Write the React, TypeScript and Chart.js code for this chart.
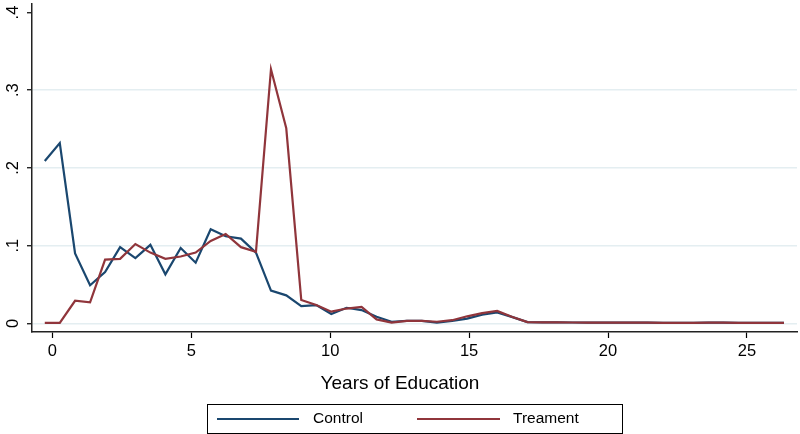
import { useEffect, useRef } from 'react';
import { Chart, registerables } from 'chart.js';

Chart.register(...registerables);

const years = [
  -0.27, 0.27, 0.82, 1.36, 1.9, 2.44, 2.99, 3.53, 4.07, 4.62,
  5.16, 5.7, 6.24, 6.79, 7.33, 7.87, 8.42, 8.96, 9.5, 10.04,
  10.59, 11.13, 11.67, 12.21, 12.76, 13.3, 13.84, 14.39, 14.93, 15.47,
  16.01, 16.56, 17.1, 17.64, 18.18, 18.73, 19.27, 19.81, 20.36, 20.9,
  21.44, 21.98, 22.53, 23.07, 23.61, 24.16, 24.7, 25.24, 25.78, 26.33,
];

const control = [
  0.209, 0.232, 0.09, 0.049, 0.066, 0.098, 0.084, 0.101, 0.063, 0.097,
  0.078, 0.121, 0.112, 0.109, 0.091, 0.042, 0.036, 0.022, 0.0235, 0.012,
  0.02, 0.017, 0.0085, 0.002, 0.003, 0.003, 0.0008, 0.003, 0.006, 0.011,
  0.014, 0.008, 0.0015, 0.0012, 0.0012, 0.001, 0.0008, 0.0008, 0.0008, 0.0008,
  0.0008, 0.0006, 0.0005, 0.0005, 0.0008, 0.0008, 0.0005, 0.0005, 0.0005, 0.0005,
];

const treatment = [
  0.0005, 0.0005, 0.029, 0.027, 0.082, 0.083, 0.102, 0.091, 0.083, 0.086,
  0.091, 0.106, 0.115, 0.098, 0.092, 0.327, 0.251, 0.03, 0.0235, 0.015,
  0.019, 0.021, 0.005, 0.001, 0.003, 0.003, 0.002, 0.004, 0.009, 0.013,
  0.016, 0.008, 0.0015, 0.0012, 0.0012, 0.001, 0.0008, 0.0008, 0.0008, 0.0008,
  0.0008, 0.0006, 0.0005, 0.0005, 0.0008, 0.0008, 0.0005, 0.0005, 0.0005, 0.0005,
];

const seriesNames = ['Control', 'Treament'];
const xTicks = [0, 5, 10, 15, 20, 25];
const yTicks = [0, 0.1, 0.2, 0.3, 0.4];
const yTickLabels = ['0', '.1', '.2', '.3', '.4'];
const xTitle = 'Years of Education';

const BLUE = '#1a476f';
const RED = '#90353b';
const FONT = '"Liberation Sans", Arial, Helvetica, sans-serif';

const decorPlugin = {
  id: 'stataDecor',
  afterDraw(chart: any) {
    const ctx = chart.ctx as CanvasRenderingContext2D;
    const yScale = chart.scales.y;
    ctx.save();
    // y tick labels, rotated
    ctx.fillStyle = '#000';
    ctx.font = `16.5px ${FONT}`;
    ctx.textAlign = 'center';
    ctx.textBaseline = 'middle';
    yTicks.forEach((v, i) => {
      const py = yScale.getPixelForValue(v);
      ctx.save();
      ctx.translate(13, py);
      ctx.rotate(-Math.PI / 2);
      ctx.fillText(yTickLabels[i], 0, 0);
      ctx.restore();
    });
    // x title
    ctx.font = `19px ${FONT}`;
    ctx.textAlign = 'center';
    ctx.textBaseline = 'middle';
    ctx.fillText(xTitle, 400, 384);
    // legend
    ctx.strokeStyle = '#000';
    ctx.lineWidth = 1;
    ctx.strokeRect(207.5, 404.5, 415, 29);
    const ly = 419;
    const items = [
      { color: BLUE, x1: 217, x2: 299, tx: 313 },
      { color: RED, x1: 417, x2: 500, tx: 513 },
    ];
    ctx.font = `15.5px ${FONT}`;
    ctx.textAlign = 'left';
    items.forEach((it, i) => {
      ctx.strokeStyle = it.color;
      ctx.lineWidth = 2.2;
      ctx.beginPath();
      ctx.moveTo(it.x1, ly);
      ctx.lineTo(it.x2, ly);
      ctx.stroke();
      ctx.fillStyle = '#000';
      ctx.fillText(seriesNames[i], it.tx, ly);
    });
    ctx.restore();
  },
};

export default function App() {
  const ref = useRef<HTMLCanvasElement | null>(null);

  useEffect(() => {
    if (!ref.current) return;
    const chart = new Chart(ref.current, {
      type: 'line',
      data: {
        datasets: [
          {
            label: seriesNames[0],
            data: years.map((x, i) => ({ x, y: control[i] })),
            borderColor: BLUE,
            backgroundColor: BLUE,
            borderWidth: 2.2,
            pointRadius: 0,
            tension: 0,
            order: 1,
          },
          {
            label: seriesNames[1],
            data: years.map((x, i) => ({ x, y: treatment[i] })),
            borderColor: RED,
            backgroundColor: RED,
            borderWidth: 2.2,
            pointRadius: 0,
            tension: 0,
            order: 0,
          },
        ],
      },
      options: {
        responsive: false,
        animation: false,
        devicePixelRatio: 1,
        layout: { padding: { top: 4, right: 3, left: 0, bottom: 0 } },
        plugins: {
          legend: { display: false },
          tooltip: { enabled: false },
        },
        scales: {
          x: {
            type: 'linear',
            min: -0.73,
            max: 26.8,
            afterBuildTicks: (s: any) => {
              s.ticks = xTicks.map((v) => ({ value: v }));
            },
            afterFit: (s: any) => {
              s.height = 102;
            },
            grid: {
              drawOnChartArea: false,
              drawTicks: true,
              tickLength: 6,
              tickColor: '#000',
              tickWidth: 1.2,
            },
            border: { color: '#222', width: 1.5 },
            ticks: {
              color: '#000',
              font: { family: FONT, size: 16.5 },
              padding: 4,
              maxRotation: 0,
              autoSkip: false,
            },
          },
          y: {
            type: 'linear',
            min: -0.0112,
            max: 0.411,
            afterBuildTicks: (s: any) => {
              s.ticks = yTicks.map((v) => ({ value: v }));
            },
            afterFit: (s: any) => {
              s.width = 32;
            },
            grid: {
              color: (c: any) => (c.tick && c.tick.value === 0.4 ? 'rgba(0,0,0,0)' : '#e4eef1'),
              lineWidth: 1.5,
              drawTicks: true,
              tickLength: 5,
              tickColor: '#000',
              tickWidth: 1.2,
            },
            border: { color: '#222', width: 1.5 },
            ticks: { display: false },
          },
        },
      },
      plugins: [decorPlugin],
    });
    return () => chart.destroy();
  }, []);

  return (
    <div style={{ position: 'absolute', left: 0, top: 0, width: 800, height: 434, background: '#fff' }}>
      <canvas ref={ref} width={800} height={434} style={{ display: 'block' }} />
    </div>
  );
}
